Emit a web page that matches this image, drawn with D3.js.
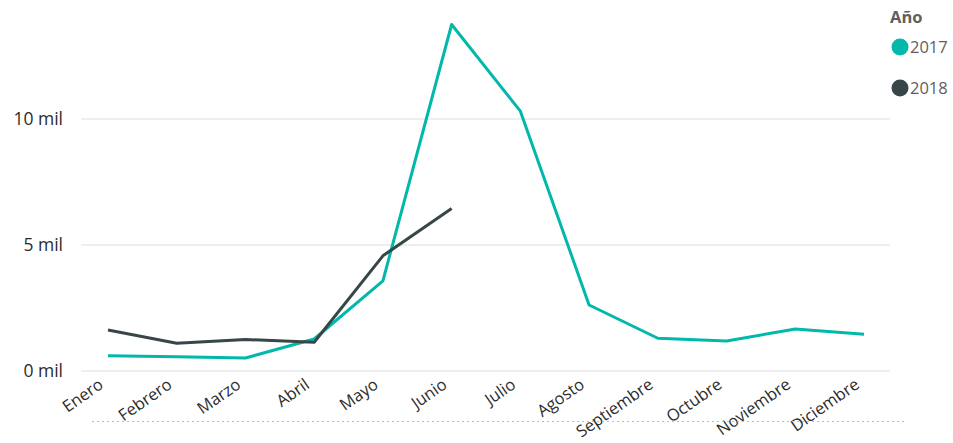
<html lang="es">
<head>
    <meta charset="UTF-8">
    <title>Año 2017 - 2018</title>
    <script src="https://d3js.org/d3.v7.min.js"></script>
    <style>
        body { margin: 0; background: #fff; font-family: "Open Sans", "Noto Sans", sans-serif; }
        .tick text { fill: #2b2b2b; }
    </style>
</head>
<body>
<script>
    const months = ["Enero", "Febrero", "Marzo", "Abril", "Mayo", "Junio", "Julio",
        "Agosto", "Septiembre", "Octubre", "Noviembre", "Diciembre"];
    const values2017 = [610, 570, 515, 1270, 3580, 13750, 10310, 2620, 1300, 1190, 1670, 1460];
    const values2018 = [1630, 1100, 1250, 1140, 4570, 6450];
    const yTicks = [0, 5000, 10000];
    const years = ["2017", "2018"];
    const colors = ["#01B8AA", "#374649"];

    const w = 953, h = 443;

    const svg = d3.select("body").append("svg")
        .attr("width", w)
        .attr("height", h);

    const xScale = d3.scalePoint()
        .domain(months)
        .range([108, 864]);

    const yScale = d3.scaleLinear()
        .domain([0, 10000])
        .range([371, 119]);

    // gridlines
    svg.append("g")
        .selectAll("line")
        .data(yTicks)
        .enter()
        .append("line")
        .attr("x1", 81)
        .attr("x2", 890)
        .attr("y1", d => yScale(d))
        .attr("y2", d => yScale(d))
        .attr("stroke", "#e9e9e9")
        .attr("stroke-width", 1.5);

    // y axis labels
    const yAxis = d3.axisLeft(yScale)
        .tickValues(yTicks)
        .tickSize(0)
        .tickPadding(0)
        .tickFormat(d => (d / 1000) + " mil");

    svg.append("g")
        .attr("transform", "translate(63,0)")
        .call(yAxis)
        .call(g => g.select(".domain").remove())
        .selectAll("text")
        .style("font-size", "17.5px")
        .style("font-family", "'Open Sans', sans-serif");

    // x axis labels, rotated
    const xAxis = d3.axisBottom(xScale)
        .tickSize(0)
        .tickPadding(0);

    svg.append("g")
        .attr("transform", "translate(0,371)")
        .call(xAxis)
        .call(g => g.select(".domain").remove())
        .selectAll("text")
        .attr("text-anchor", "end")
        .attr("dy", 0)
        .attr("y", 0)
        .attr("transform", "translate(-4,16) rotate(-35)")
        .style("font-size", "16.5px")
        .style("font-family", "'Open Sans', sans-serif");

    // dotted line under chart
    svg.append("line")
        .attr("x1", 92)
        .attr("x2", 907)
        .attr("y1", 421.5)
        .attr("y2", 421.5)
        .attr("stroke", "#bbb")
        .attr("stroke-width", 1)
        .attr("stroke-dasharray", "2,3");

    const line = d3.line()
        .x((d, i) => xScale(months[i]))
        .y(d => yScale(d));

    [values2017, values2018].forEach((vals, k) => {
        svg.append("path")
            .datum(vals)
            .attr("fill", "none")
            .attr("stroke", colors[k])
            .attr("stroke-width", 3)
            .attr("stroke-linejoin", "round")
            .attr("d", line);
    });

    // legend
    svg.append("text")
        .attr("x", 890)
        .attr("y", 23)
        .style("font-size", "16.5px")
        .style("font-weight", "bold")
        .style("fill", "#605E5C")
        .text("Año");

    const legend = svg.selectAll(".legend-item")
        .data(years)
        .enter()
        .append("g")
        .attr("class", "legend-item")
        .attr("transform", (d, i) => "translate(900," + (47 + i * 41) + ")");

    legend.append("circle")
        .attr("r", 8.5)
        .attr("fill", (d, i) => colors[i]);

    legend.append("text")
        .attr("x", 10)
        .attr("y", 6)
        .style("font-size", "16.5px")
        .style("fill", "#605E5C")
        .text(d => d);
</script>
</body>
</html>
